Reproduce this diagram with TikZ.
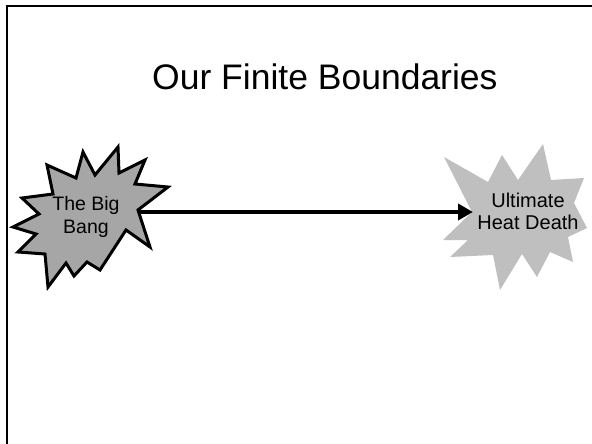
\documentclass[tikz,border=0pt]{standalone}
\usepackage{fontspec}
\setmainfont{Liberation Sans}
\usetikzlibrary{arrows.meta}
\definecolor{bbgray}{HTML}{A6A6A6}
\definecolor{hdgray}{HTML}{BFBFBF}
\tikzset{
  frameline/.style={line width=2pt, draw=black},
  bigstar/.style={fill=bbgray, draw=black, line width=3pt, line join=miter},
  heatstar/.style={fill=hdgray, draw=none},
  startext/.style={align=center, inner sep=0pt, font=\fontsize{19.5}{23}\selectfont},
  titletext/.style={inner sep=0pt, font=\fontsize{35.5}{42}\selectfont},
  arr/.style={line width=4pt, -{Triangle[length=15pt,width=16pt]}}
}
\begin{document}
\begin{tikzpicture}[x=1pt,y=-1pt]
\useasboundingbox (0,0) rectangle (592,444);
% slide frame (top and left edges)
\draw[frameline] (7,444) -- (7,6) -- (592,6);
% title
\node[titletext, anchor=base west] (title) at (152,90) {Our Finite Boundaries};
% big bang star
\draw[bigstar] (83,152) -- (95,175) -- (118,147) -- (119,173) -- (145,160) -- (135,184)
  -- (168,187) -- (138,210) -- (150,247) -- (126,230) -- (100,270) -- (87,262)
  -- (74,276) -- (66,263) -- (48,287) -- (45,254) -- (18,252) -- (36,234)
  -- (13,227) -- (39,214) -- (22,198) -- (53,194) -- (47,165) -- (76,178) -- cycle;
% heat death star
\fill[heatstar] (444,157) -- (488,182) -- (502,155) -- (518,180) -- (543,144) -- (551,180)
  -- (584,178) -- (574,203) -- (587,228) -- (568,237) -- (573,262) -- (550,252)
  -- (537,277) -- (522,254) -- (500,290) -- (493,255) -- (450,257) -- (468,240)
  -- (443,240) -- (472,212) -- cycle;
\node[startext] (bb) at (86,217.4) {The Big\\Bang};
\node[startext, font=\fontsize{20}{22}\selectfont] (hd) at (528,211.3) {Ultimate\\Heat Death};
\coordinate (bbedge) at (138,212);
\coordinate (hdedge) at (473,212);
\draw[arr] (bbedge) -- (hdedge);
\end{tikzpicture}
\end{document}
